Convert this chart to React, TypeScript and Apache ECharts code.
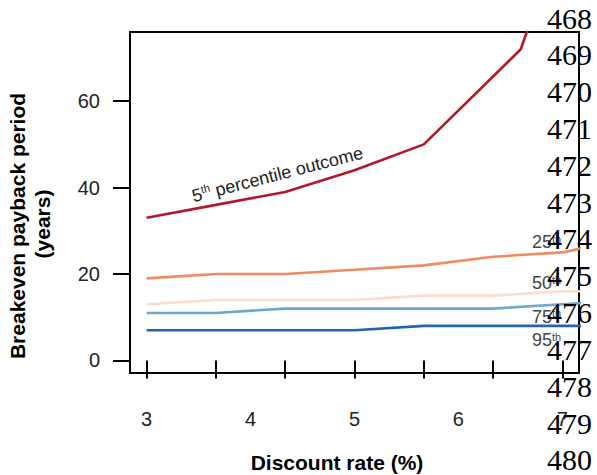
import React, { useEffect, useRef } from 'react';
import * as echarts from 'echarts';

const SANS = '"Liberation Sans", Arial, Helvetica, sans-serif';
const SERIF = '"Liberation Serif", "Times New Roman", serif';

// Data
const xValues = [3, 3.667, 4.333, 5, 5.667, 6.333, 7, 7.667];
const p25 = [19, 20, 20, 21, 22, 24, 25, 28.5];
const p50 = [13, 14, 14, 14, 15, 15, 16, 16];
const p75 = [11, 11, 12, 12, 12, 12, 13, 14];
const p95 = [7, 7, 7, 7, 8, 8, 8, 8];
const p5X = [3, 3.667, 4.333, 5, 5.667, 6.6, 7];
const p5 = [33, 36, 39, 44, 50, 72, 100];

const xTicks = [3, 3.6667, 4.3333, 5, 5.6667, 6.3333, 7];
const xTickLabels = [3, 4, 5, 6, 7];
const yTickValues = [0, 20, 40, 60];

const percentileLabels = ['25', '50', '75', '95'];
const lineNumbers = ['468', '469', '470', '471', '472', '473', '474', '475', '476', '477', '478', '479', '480'];

const COLORS = {
  p5: '#b2182b',
  p25: '#ef8a62',
  p50: '#fddbc7',
  p75: '#67a9cf',
  p95: '#2166ac',
};

const pairs = (xs: number[], ys: number[]) => ys.map((y, i) => [xs[i], y]);

const lineSeries = (name: string, data: number[][], color: string) => ({
  name,
  type: 'line',
  data,
  symbol: 'none',
  clip: true,
  lineStyle: { color, width: 2.6 },
  z: 3,
});

export default function App() {
  const ref = useRef<HTMLDivElement>(null);

  useEffect(() => {
    if (!ref.current) return;
    const chart = echarts.init(ref.current, undefined, { renderer: 'svg' });

    const labelYs = [242, 283, 316.5, 340];
    const percentileGraphics = percentileLabels.map((t, i) => ({
      type: 'text',
      x: 532,
      y: labelYs[i],
      z: 50,
      style: {
        text: `{n|${t}}{s|th}`,
        rich: {
          n: { fontSize: 18, fontFamily: SANS, fill: '#444', lineHeight: 18, verticalAlign: 'bottom' },
          s: { fontSize: 11, fontFamily: SANS, fill: '#444', lineHeight: 18, verticalAlign: 'top' },
        },
        align: 'left',
        verticalAlign: 'middle',
      },
    }));

    const numberGraphics = lineNumbers.map((t, i) => ({
      type: 'text',
      x: 547,
      y: 18 + i * 36.83,
      z: 100,
      style: {
        text: t,
        fontFamily: SERIF,
        fontSize: 30,
        fill: '#000',
        align: 'left',
        verticalAlign: 'middle',
      },
    }));

    const option: any = {
      animation: false,
      backgroundColor: '#fff',
      grid: {
        left: 130,
        top: 32,
        right: 18,
        bottom: 102,
        show: true,
        borderColor: '#000',
        borderWidth: 2,
        backgroundColor: 'transparent',
      },
      xAxis: {
        type: 'value',
        min: 2.84,
        max: 7.16,
        axisLine: { show: false },
        splitLine: { show: false },
        axisTick: {
          show: true,
          length: 18,
          lineStyle: { color: '#000', width: 2 },
          customValues: xTicks,
        },
        axisLabel: {
          customValues: xTickLabels,
          margin: 36,
          fontSize: 20,
          color: '#222',
          fontFamily: SANS,
          formatter: (v: number) => String(Math.round(v)),
        },
      },
      yAxis: {
        type: 'value',
        min: -2.9,
        max: 76,
        axisLine: { show: false },
        splitLine: { show: false },
        axisTick: {
          show: true,
          length: 17,
          lineStyle: { color: '#000', width: 2 },
          customValues: yTickValues,
        },
        axisLabel: {
          customValues: yTickValues,
          margin: 30,
          fontSize: 20,
          color: '#222',
          fontFamily: SANS,
        },
      },
      series: [
        lineSeries('95th', pairs(xValues, p95), COLORS.p95),
        lineSeries('75th', pairs(xValues, p75), COLORS.p75),
        lineSeries('50th', pairs(xValues, p50), COLORS.p50),
        lineSeries('25th', pairs(xValues, p25), COLORS.p25),
        lineSeries('5th', pairs(p5X, p5), COLORS.p5),
      ],
      graphic: [
        {
          type: 'text',
          x: 17,
          y: 226,
          rotation: Math.PI / 2,
          style: {
            text: 'Breakeven payback period',
            fontFamily: SANS,
            fontWeight: 'bold',
            fontSize: 21,
            fill: '#000',
            align: 'center',
            verticalAlign: 'middle',
          },
        },
        {
          type: 'text',
          x: 42,
          y: 224,
          rotation: Math.PI / 2,
          style: {
            text: '(years)',
            fontFamily: SANS,
            fontWeight: 'bold',
            fontSize: 21,
            fill: '#000',
            align: 'center',
            verticalAlign: 'middle',
          },
        },
        {
          type: 'text',
          x: 337,
          y: 462,
          style: {
            text: 'Discount rate (%)',
            fontFamily: SANS,
            fontWeight: 'bold',
            fontSize: 21,
            fill: '#000',
            align: 'center',
            verticalAlign: 'middle',
          },
        },
        {
          type: 'text',
          x: 192,
          y: 196,
          rotation: (14.5 * Math.PI) / 180,
          z: 50,
          style: {
            text: '{n|5}{s|th}{n| percentile outcome}',
            rich: {
              n: { fontSize: 18, fontFamily: SANS, fill: '#222', lineHeight: 19, verticalAlign: 'bottom' },
              s: { fontSize: 11, fontFamily: SANS, fill: '#222', lineHeight: 19, verticalAlign: 'top' },
            },
            align: 'left',
            verticalAlign: 'middle',
          },
        },
        ...percentileGraphics,
        ...numberGraphics,
      ],
    };

    chart.setOption(option);
    return () => chart.dispose();
  }, []);

  return (
    <div
      ref={ref}
      style={{ position: 'absolute', left: 0, top: 0, width: 597, height: 475 }}
    />
  );
}
